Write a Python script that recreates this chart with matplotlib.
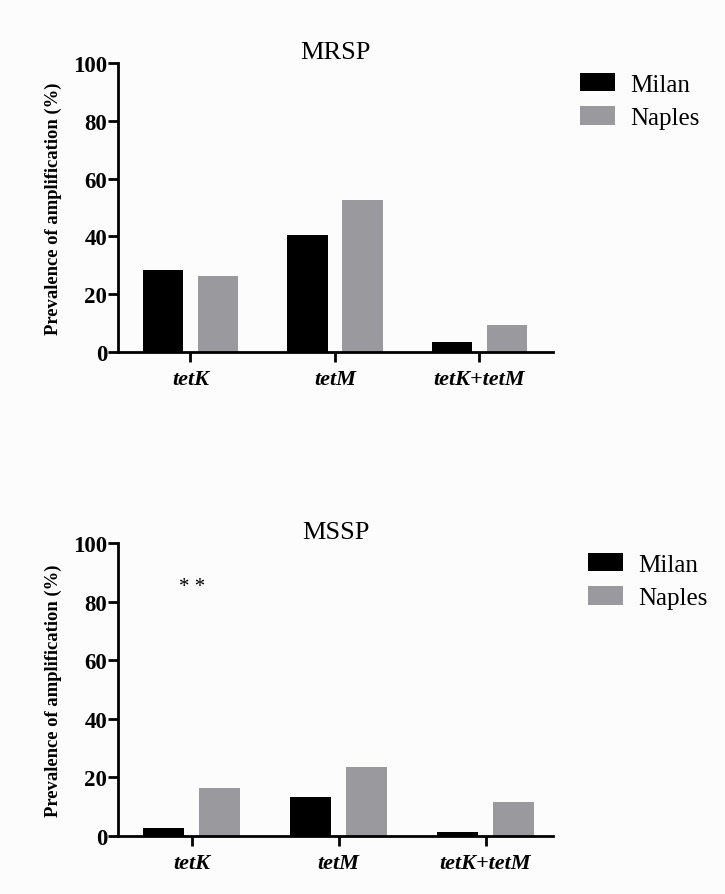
import matplotlib
matplotlib.use("Agg")
import matplotlib.pyplot as plt
import numpy as np

plt.rcParams["font.family"] = ["Liberation Serif", "DejaVu Serif"]

genes = ["tetK", "tetM", "tetK+tetM"]
groups = ["Milan", "Naples"]

mrsp_milan = [28.5, 40.5, 3.5]
mrsp_naples = [26.3, 52.5, 9.3]

mssp_milan = [2.7, 13.3, 1.4]
mssp_naples = [16.4, 23.5, 11.6]

panels = [("MRSP", mrsp_milan, mrsp_naples, None, (-0.5, 2.51), 1.039),
          ("MSSP", mssp_milan, mssp_naples, ("* *", 0, 85), (-0.5, 2.46), 1.057)]

colors = ["#000000", "#9a9a9e"]
bar_w = 0.28
offset = 0.19

fig = plt.figure(figsize=(7.25, 8.95), dpi=100)
fig.patch.set_facecolor("#fcfcfc")

axes_pos = [[0.163, 0.6056, 0.600, 0.3229],
            [0.163, 0.0648, 0.600, 0.3274]]

x = np.arange(len(genes))

for pos, (title, milan, naples, note, xlim, leg_x) in zip(axes_pos, panels):
    ax = fig.add_axes(pos)
    ax.set_facecolor("none")
    ax.bar(x - offset, milan, bar_w, color=colors[0], label=groups[0])
    ax.bar(x + offset, naples, bar_w, color=colors[1], label=groups[1])

    ax.set_xlim(*xlim)
    ax.set_ylim(0, 100)
    ax.set_yticks([0, 20, 40, 60, 80, 100])
    ax.set_xticks(x)
    ax.set_xticklabels(genes, fontsize=16, fontweight="bold", style="italic")
    for lab in ax.get_yticklabels():
        lab.set_fontsize(16.5)
        lab.set_fontweight("bold")

    for side in ["top", "right"]:
        ax.spines[side].set_visible(False)
    for side in ["left", "bottom"]:
        ax.spines[side].set_linewidth(2)
    ax.tick_params(axis="both", width=2, length=7, pad=1)
    ax.tick_params(axis="x", pad=5)

    ax.set_ylabel("Prevalence of amplification (%)", fontsize=13.4,
                  fontweight="bold", labelpad=8)
    ax.set_title(title, fontsize=19, pad=1)

    if note is not None:
        ax.text(note[1], note[2], note[0], ha="center", va="center",
                fontsize=15)

    ax.legend(loc="upper left", bbox_to_anchor=(leg_x, 1.0), frameon=False,
              fontsize=18, handlelength=1.4, handleheight=0.76,
              labelspacing=0.42, handletextpad=0.6, borderaxespad=0)

fig.savefig("out.png", dpi=100, facecolor=fig.get_facecolor())
